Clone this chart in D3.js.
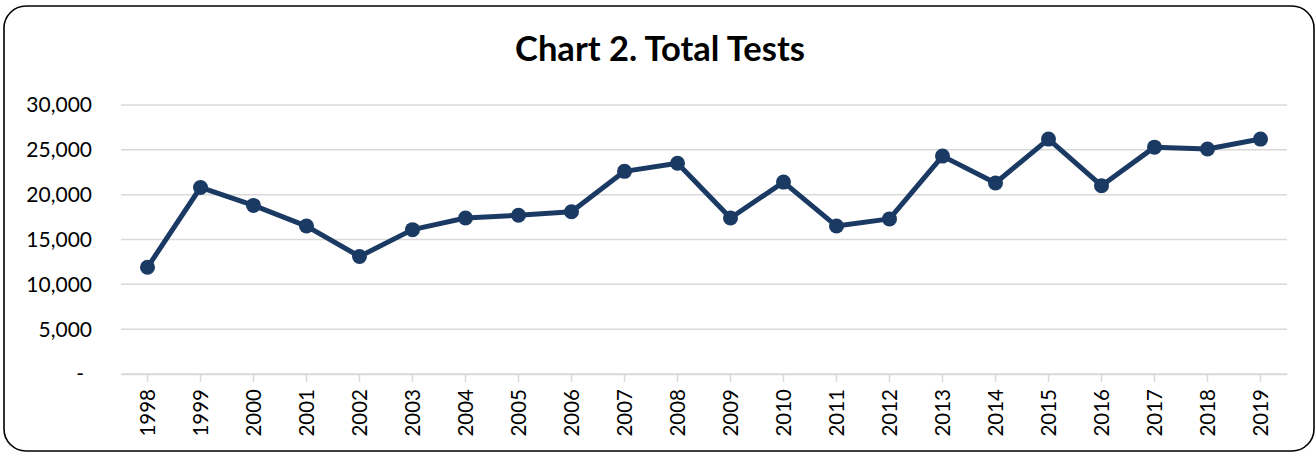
<!DOCTYPE html>
<html><head><meta charset="utf-8">
<script src="https://cdn.jsdelivr.net/npm/d3@7"></script>
<style>html,body{margin:0;padding:0;background:#fff;}svg{display:block;}</style>
</head><body>
<svg id="c" width="1316" height="453"></svg>
<script>
const years = ["1998","1999","2000","2001","2002","2003","2004","2005","2006","2007","2008","2009","2010","2011","2012","2013","2014","2015","2016","2017","2018","2019"];
const totalTests = [11900,20800,18800,16500,13100,16100,17400,17700,18100,22600,23500,17400,21400,16500,17300,24300,21300,26200,21000,25300,25100,26200];
const yTicks = [0,5000,10000,15000,20000,25000,30000];
const titleText = "Chart 2. Total Tests";

(function(){
const svg = d3.select("#c");
const font = "Lato, 'Open Sans', sans-serif";
svg.append("rect").attr("x",4).attr("y",6).attr("width",1310).attr("height",445)
  .attr("rx",22).attr("fill","#fff").attr("stroke","#000").attr("stroke-width",1.6);

const pl=121, pr=1287, pt=105, pb=374;
const x = d3.scaleBand().domain(years).range([pl,pr]);
const y = d3.scaleLinear().domain([0,30000]).range([pb,pt]);

svg.append("text").attr("x",660).attr("y",61).attr("text-anchor","middle")
  .attr("font-family",font).attr("font-weight","bold").attr("font-size",34.5).attr("fill","#000").text(titleText);

const g = svg.append("g");
g.selectAll("line.grid").data(yTicks).join("line").attr("class","grid")
  .attr("x1",pl).attr("x2",pr).attr("y1",d=>y(d)).attr("y2",d=>y(d))
  .attr("stroke","#d9d9d9").attr("stroke-width",1.5);

const fmt = d3.format(",");
g.selectAll("text.yl").data(yTicks).join("text").attr("class","yl")
  .attr("x",d=>d===0?84:92).attr("y",d=>y(d)).attr("dy","0.35em").attr("text-anchor","end")
  .attr("font-family",font).attr("font-size",21).attr("fill","#000")
  .text(d=>d===0?"-":fmt(d));

const xAxis = d3.axisBottom(x).tickSize(8).tickSizeOuter(0);
const ax = g.append("g").attr("transform",`translate(0,${pb})`).call(xAxis);
ax.select(".domain").attr("stroke","#d9d9d9").attr("stroke-width",1.5);
ax.selectAll(".tick line").attr("stroke","#d9d9d9").attr("stroke-width",1.5);
ax.selectAll(".tick text").attr("font-family",font).attr("font-size",20.5).attr("fill","#000")
  .attr("transform","rotate(-90)").attr("text-anchor","end").attr("x",-15).attr("y",0).attr("dy","0.35em");

const cx = d=>x(d)+x.bandwidth()/2;
const line = d3.line().x((d,i)=>cx(years[i])).y(d=>y(d));
g.append("path").datum(totalTests).attr("d",line).attr("fill","none")
  .attr("stroke","#1b3a63").attr("stroke-width",5).attr("stroke-linejoin","round");
g.selectAll("circle").data(totalTests).join("circle")
  .attr("cx",(d,i)=>cx(years[i])).attr("cy",d=>y(d)).attr("r",7.5).attr("fill","#1b3a63");
})();
</script>
</body></html>
